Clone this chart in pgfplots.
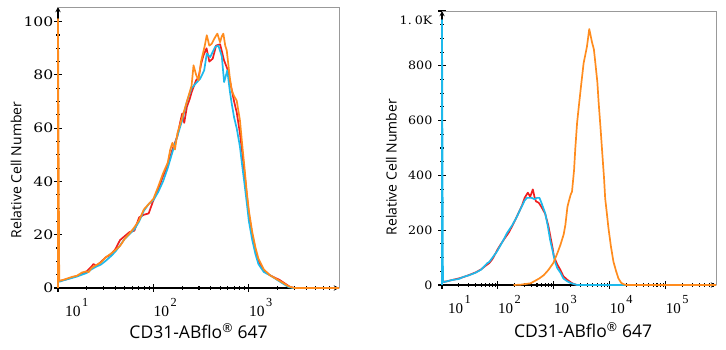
\documentclass[border=0pt]{standalone}
\usepackage{pgfplots}
\pgfplotsset{compat=1.18}
\usepackage{fontspec}
\setmainfont{Liberation Serif}
\newfontfamily\labelfont{Open Sans}
\newfontfamily\ytickfontA{DejaVu Serif}[FakeStretch=1.2]
\newfontfamily\ytickfontB{DejaVu Serif}[FakeStretch=1.1]
\definecolor{cRed}{RGB}{240,30,30}
\definecolor{cCyan}{RGB}{30,185,235}
\definecolor{cOrange}{RGB}{255,140,30}
\newcommand\sups[1]{\hspace{1.5bp}\raisebox{10bp}{\fontsize{12.3bp}{12.3bp}\selectfont #1}}
\pgfplotsset{
    axis line style={-, black, line width=1.3bp},
    tick align=outside,
    major tick length=8bp, minor tick length=4bp,
    every tick/.append style={black, line width=1.1bp},
    xticklabel style={font=\fontsize{15.5bp}{16bp}\selectfont, anchor=north west, inner sep=0pt, yshift=-6bp},
    yticklabel style={anchor=east, inner sep=0.5bp},
    xlabel style={font=\labelfont\fontsize{17.5bp}{18bp}\selectfont},
    ylabel style={font=\labelfont\fontsize{14bp}{16bp}\selectfont},
    every axis plot/.append style={line width=1.7bp, no markers, line join=round},
}
\begin{document}
\begin{tikzpicture}
\path[use as bounding box] (0,0) rectangle (726bp,350bp);
% ---------------- left panel ----------------
\begin{axis}[
  xmode=log, scale only axis, clip=false,
  axis x line=bottom, axis y line=left,
  /pgf/number format/assume math mode=true,
  at={(58bp,62bp)}, anchor=south west,
  width=281bp, height=281bp,
  xmin=10, xmax=8790, ymin=0, ymax=105.5,
  xtick={10,100,1000},
  xticklabels={\hspace*{7bp}10\sups{1},10\sups{2},10\sups{3}},
  minor xtick={20,30,40,50,60,70,80,90,200,300,400,500,600,700,800,900,2000,3000,4000,5000,6000,7000,8000},
  ytick={0,20,40,60,80,100}, minor y tick num=3,
  yticklabel style={font=\ytickfontA\fontsize{13bp}{14bp}\selectfont},
  xlabel={CD31-ABflo\textsuperscript{®} 647},
  ylabel={Relative Cell Number},
  xlabel style={at={(axis description cs:0.5,-0.179)}, anchor=base},
  ylabel style={at={(axis description cs:-0.13,0.42)}, anchor=base},
]
\addplot[cRed] coordinates {
(10.3,2.5)(11.2,2.9)(12.6,3.4)(14.1,4.0)(15.8,4.5)(17.8,5.2)(19.9,6.2)(22.4,8.0)(23.5,9.0)(25.1,8.3)(28.2,9.8)(31.6,11.5)(35.5,12.5)(39.8,14.5)(44.7,18)(50.1,19.5)(56.2,21)(63.1,21.5)(70.8,26.5)(79.4,27.5)(89.1,28)(100,33)(112,37)(126,42)(141,46)(158,52)(178,57)(190,62)(200,65.5)(210,62)(224,68)(240,71)(251,73.5)(280,78)(297,79)(316,84.2)(334,87.3)(360,90)(385,85)(418,86.1)(453,91)(499,91.5)(550,85.4)(594,82.3)(631,78)(700,70)(745,66)(806,58)(850,51)(900,43)(950,35)(1000,27.5)(1084,20)(1175,14)(1259,10)(1432,6.5)(1660,4.8)(1892,3.8)(2100,3)(2400,1.6)(2700,0.4)(3000,0)(8790,0)
};
\addplot[cCyan] coordinates {
(10.3,2.3)(11.2,2.8)(12.6,3.3)(14.1,3.8)(15.8,4.3)(17.8,5.0)(19.9,5.6)(22.4,7.0)(25.1,8.0)(28.2,8.8)(31.6,10.2)(35.5,11.8)(39.8,13.6)(44.7,16)(50.1,18.5)(56.2,20.2)(63.1,22)(70.8,25)(79.4,29)(89.1,31.5)(100,33)(112,36)(126,40)(141,45)(158,51)(178,57)(200,63)(224,70)(251,75)(281,77)(309,78.6)(340,81.7)(362,88)(393,86.7)(443,90.5)(479,91)(520,87)(550,77.3)(594,81.7)(631,74)(661,69.2)(700,64)(745,60)(806,53)(850,46)(900,39)(950,32)(1000,25)(1084,18)(1175,12.5)(1259,9)(1432,6)(1660,4.8)(1892,3.5)(2239,1.8)(2612,0.3)(2900,0)(8790,0)
};
\addplot[cOrange] coordinates {
(10,0)(10,101)(10.3,2.7)(11.2,3.0)(12.6,3.6)(14.1,4.2)(15.8,4.6)(17.8,5.8)(19.5,6.2)(21,6.0)(22.4,7.5)(25.1,8.6)(28.2,9.6)(31.6,11.5)(35.5,12.8)(39.8,14.2)(44.7,15.8)(50.1,18.5)(56.2,20.5)(63.1,22.8)(70.8,25.5)(79.4,29.5)(89.1,31.5)(100,33.5)(112,38)(126,43)(141,47)(150,52)(158,54.5)(168,52)(178,58)(200,64)(224,70)(251,76)(263,83.6)(280,80)(297,78)(315,85)(330,88)(345,91)(362,94.9)(385,91)(408,91.7)(440,94)(467,95.5)(499,92.3)(520,94.5)(540,95.5)(565,91)(586,89.2)(631,79)(661,74.2)(700,72)(745,70.4)(806,62.9)(850,54)(900,45)(950,36)(1000,29)(1084,21)(1175,15)(1259,11)(1432,7)(1660,4.8)(1892,3.6)(2239,2.1)(2612,0.6)(3000,0)(8790,0)
};
\draw[gray!80, line width=0.7bp] (rel axis cs:0,1) -- (rel axis cs:1,1) -- (rel axis cs:1,0);
\end{axis}
% ---------------- right panel ----------------
\begin{axis}[
  xmode=log, scale only axis, clip=false,
  axis x line=bottom, axis y line=left,
  /pgf/number format/assume math mode=true,
  at={(442bp,65bp)}, anchor=south west,
  width=274bp, height=274bp,
  xmin=10, xmax=794000, ymin=0, ymax=1000,
  xtick={10,100,1000,10000,100000},
  xticklabels={\hspace*{6bp}10\sups{1},10\sups{2},10\sups{3},10\sups{4},10\sups{5}},
  xticklabel style={font=\fontsize{15bp}{15bp}\selectfont},
  minor xtick={20,30,40,50,60,70,80,90,200,300,400,500,600,700,800,900,2000,3000,4000,5000,6000,7000,8000,9000,20000,30000,40000,50000,60000,70000,80000,90000,200000,300000,400000,500000,600000,700000},
  ytick={0,200,400,600,800},
  minor ytick={50,100,150,250,300,350,450,500,550,650,700,750,850,900,950},
  yticklabel style={font=\ytickfontB\fontsize{11.5bp}{12bp}\selectfont, xshift=-5bp},
  extra y ticks={1000}, extra y tick labels={1.\hspace{3bp}0K},
  extra y tick style={yticklabel style={yshift=-9bp}},
  xlabel={CD31-ABflo\textsuperscript{®} 647},
  ylabel={Relative Cell Number},
  xlabel style={at={(axis description cs:0.515,-0.193)}, anchor=base},
  ylabel style={at={(axis description cs:-0.166,0.43)}, anchor=base},
]
\addplot[cRed] coordinates {
(10.4,12)(12,13)(15,18)(20,24)(25,30)(30,36)(40,46)(50,57)(60,70)(70,80)(80,95)(91,116)(100,132)(112,148)(130,168)(157,192)(180,215)(207,240)(240,268)(272,292)(300,318)(343,337)(378,322)(421,349)(450,322)(480,305)(537,300)(600,285)(700,260)(800,215)(871,175)(950,135)(1000,105)(1150,75)(1310,55)(1480,32)(1720,20)(2000,10)(2240,4)(2600,0)(794000,0)
};
\addplot[cCyan] coordinates {
(10,0)(10,967)(10.4,12)(11,11)(12,13)(15,18)(20,22)(24.5,30)(30,35)(40,45)(50,56)(64,79)(70,84)(80,100)(96,122)(112,146)(130,170)(145,189)(180,218)(218,249)(250,275)(300,308)(330,318)(400,318)(450,313)(500,318)(553,318)(600,300)(700,262)(780,215)(859,164)(950,125)(1047,85)(1150,62)(1310,45)(1480,24)(1720,14)(2000,7)(2240,4)(2600,0)(794000,0)
};
\addplot[cOrange] coordinates {
(190,0)(250,1)(320,4)(380,6)(450,14)(550,24)(661,36)(800,55)(900,70)(977,80)(1150,115)(1309,146)(1500,185)(1607,219)(1750,285)(1845,304)(2000,330)(2113,341)(2300,420)(2421,499)(2600,590)(2773,645)(3055,724)(3404,809)(3908,870)(4295,934)(4500,915)(4786,888)(5200,860)(5495,815)(6000,740)(6310,669)(6800,580)(7244,499)(7900,390)(8279,316)(9000,250)(9484,207)(10500,140)(11641,85)(13000,50)(14289,24)(16000,8)(18000,2)(20000,0)(794000,0)
};
\draw[gray!80, line width=0.7bp] (rel axis cs:0,1) -- (rel axis cs:1,1) -- (rel axis cs:1,0);
\end{axis}
\end{tikzpicture}
\end{document}
